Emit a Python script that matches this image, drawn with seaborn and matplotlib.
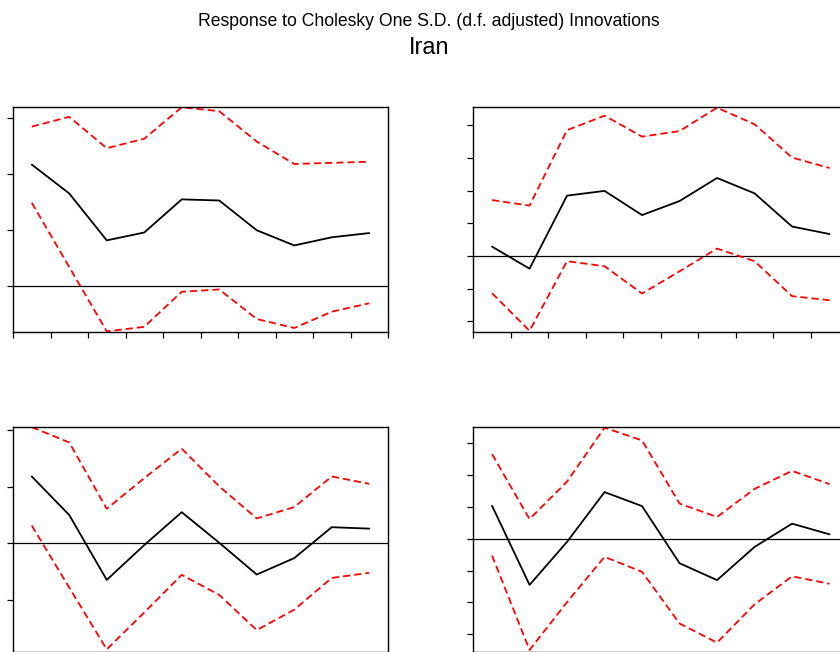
import matplotlib
matplotlib.use("Agg")
import matplotlib.pyplot as plt
import seaborn as sns
import pandas as pd
import numpy as np

# ---- data (units = one y-tick step) ----
periods = [1, 2, 3, 4, 5, 6, 7, 8, 9, 10]

tl_resp = [2.17, 1.655, 0.82, 0.96, 1.55, 1.53, 1.0, 0.73, 0.875, 0.95]
tl_up = [2.845, 3.02, 2.46, 2.63, 3.19, 3.12, 2.58, 2.18, 2.2, 2.22]
tl_lo = [1.49, 0.345, -0.80, -0.72, -0.095, -0.054, -0.58, -0.74, -0.45, -0.30]

tr_resp = [0.285, -0.39, 1.845, 1.99, 1.25, 1.68, 2.385, 1.915, 0.90, 0.67]
tr_up = [1.71, 1.54, 3.85, 4.29, 3.65, 3.82, 4.535, 4.03, 3.01, 2.69]
tr_lo = [-1.14, -2.29, -0.16, -0.315, -1.15, -0.47, 0.225, -0.16, -1.23, -1.355]

bl_resp = [1.18, 0.50, -0.645, -0.03, 0.55, 0.01, -0.55, -0.26, 0.285, 0.26]
bl_up = [2.05, 1.78, 0.61, 1.15, 1.67, 1.005, 0.44, 0.64, 1.18, 1.05]
bl_lo = [0.315, -0.78, -1.87, -1.22, -0.555, -0.91, -1.53, -1.17, -0.61, -0.52]

br_resp = [1.03, -1.45, -0.10, 1.46, 1.02, -0.77, -1.30, -0.26, 0.47, 0.135]
br_up = [2.65, 0.615, 1.79, 3.48, 3.08, 1.10, 0.68, 1.56, 2.125, 1.71]
br_lo = [-0.53, -3.49, -1.99, -0.57, -1.04, -2.66, -3.26, -2.06, -1.18, -1.415]

title_main = "Response to Cholesky One S.D. (d.f. adjusted) Innovations"
title_sub = "Iran"

panels = [
    dict(resp=tl_resp, up=tl_up, lo=tl_lo, ylim=(-0.815, 3.2), yticks=[0, 1, 2, 3],
         pos=(13, 106.7)),
    dict(resp=tr_resp, up=tr_up, lo=tr_lo, ylim=(-2.333, 4.566), yticks=[-2, -1, 0, 1, 2, 3, 4],
         pos=(473.3, 106.7)),
    dict(resp=bl_resp, up=bl_up, lo=bl_lo, ylim=(-1.92, 2.058), yticks=[-1, 0, 1, 2],
         pos=(13, 426.7)),
    dict(resp=br_resp, up=br_up, lo=br_lo, ylim=(-3.56, 3.51), yticks=[-3, -2, -1, 0, 1, 2, 3],
         pos=(473.3, 426.7)),
]

sns.set_theme(style="ticks")
plt.rcParams['font.family'] = ['Liberation Sans', 'DejaVu Sans']

W, H = 840, 652
fig = plt.figure(figsize=(W / 100, H / 100), dpi=100)

ax_w, ax_h = 375, 225.5
for p in panels:
    x0, ytop = p["pos"]
    ax = fig.add_axes([x0 / W, 1 - (ytop + ax_h) / H, ax_w / W, ax_h / H])
    df = pd.DataFrame({"period": periods, "resp": p["resp"], "up": p["up"], "lo": p["lo"]})
    ax.axhline(0, color="black", lw=0.9, zorder=1)
    sns.lineplot(data=df, x="period", y="up", ax=ax, color="#ff0000", lw=1.3,
                 linestyle=(0, (4.0, 2.2)))
    sns.lineplot(data=df, x="period", y="lo", ax=ax, color="#ff0000", lw=1.3,
                 linestyle=(0, (4.0, 2.2)))
    sns.lineplot(data=df, x="period", y="resp", ax=ax, color="black", lw=1.3)
    ax.set_xlim(0.5, 10.5)
    ax.set_ylim(*p["ylim"])
    ax.set_xticks(np.arange(0.5, 11, 1.0))
    ax.set_yticks(p["yticks"])
    ax.set_xticklabels([])
    ax.set_yticklabels([])
    ax.set_xlabel("")
    ax.set_ylabel("")
    ax.tick_params(axis="both", direction="out", length=4.5, width=0.9, color="black")
    for s in ax.spines.values():
        s.set_visible(True)
        s.set_color("black")
        s.set_linewidth(1.0)

fig.text(429 / W, 1 - 21.5 / H, title_main, ha="center", va="center", fontsize=12.7, color="black")
fig.text(429 / W, 1 - 47.5 / H, title_sub, ha="center", va="center", fontsize=16.8, color="black")

fig.savefig("out.png", dpi=100)
